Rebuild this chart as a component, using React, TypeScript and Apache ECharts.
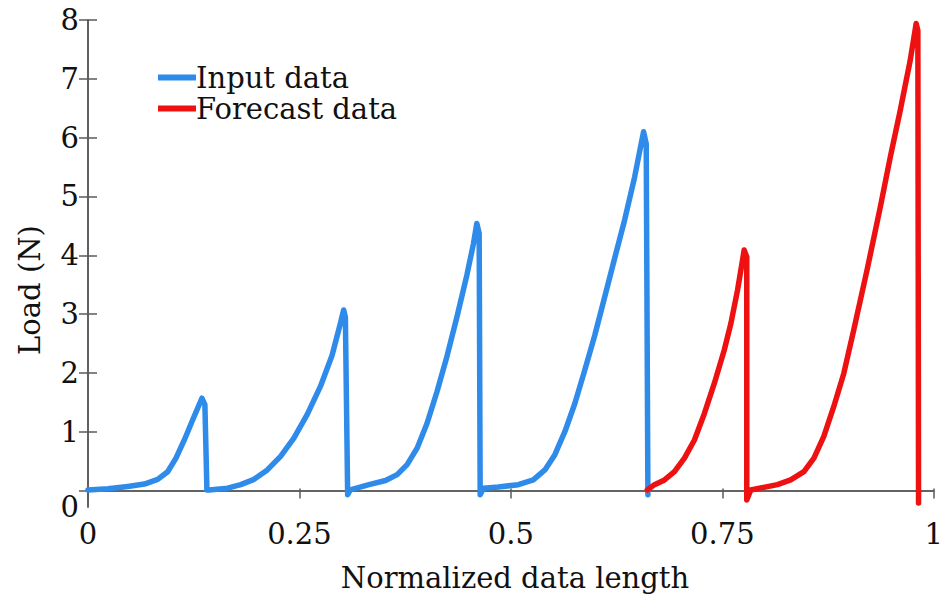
import React, { useEffect, useRef } from "react";
import * as echarts from "echarts";

const inputX = [
  0, 0.0236, 0.047, 0.0667, 0.0824, 0.0942, 0.104, 0.1139, 0.1237, 0.1315, 0.1347, 0.1382, 0.1406, 0.1433,
  0.165, 0.1806, 0.1963, 0.212, 0.2277, 0.2434, 0.2591, 0.2748, 0.2886, 0.2984, 0.3023, 0.3043, 0.307, 0.310,
  0.3322, 0.3518, 0.3655, 0.3773, 0.3891, 0.4008, 0.4126, 0.4244, 0.4362, 0.4479, 0.4558, 0.4597, 0.4625, 0.4637, 0.4676,
  0.4853, 0.5088, 0.5265, 0.5402, 0.552, 0.5638, 0.5756, 0.5874, 0.5992, 0.6109, 0.6227, 0.6345, 0.6463, 0.6541, 0.6569, 0.660, 0.662,
];
const inputY = [
  0.01, 0.03, 0.07, 0.11, 0.19, 0.32, 0.55, 0.86, 1.2, 1.46, 1.57, 1.46, 0.01, 0.01,
  0.04, 0.1, 0.19, 0.35, 0.58, 0.89, 1.29, 1.77, 2.3, 2.84, 3.07, 2.95, -0.07, 0.01,
  0.1, 0.17, 0.27, 0.44, 0.72, 1.14, 1.68, 2.28, 2.95, 3.66, 4.2, 4.54, 4.37, -0.07, 0.04,
  0.06, 0.1, 0.18, 0.35, 0.61, 1.0, 1.48, 2.05, 2.64, 3.29, 3.95, 4.6, 5.33, 5.9, 6.1, 5.9, -0.07,
];
const forecastX = [
  0.6612, 0.6698, 0.6816, 0.6934, 0.7052, 0.717, 0.7288, 0.7405, 0.7523, 0.7601, 0.768, 0.7739, 0.7758, 0.7789, 0.7789,
  0.7836, 0.8151, 0.8308, 0.8465, 0.8583, 0.87, 0.8818, 0.8936, 0.9054, 0.9211, 0.9368, 0.9486, 0.9603, 0.9721, 0.9792, 0.9812, 0.982,
];
const forecastY = [
  0.01, 0.1, 0.18, 0.32, 0.55, 0.86, 1.31, 1.82, 2.39, 2.84, 3.41, 3.92, 4.09, 3.97, -0.16,
  0.01, 0.1, 0.18, 0.32, 0.55, 0.92, 1.43, 1.99, 2.73, 3.75, 4.82, 5.67, 6.46, 7.31, 7.94, 7.82, -0.21,
];
const xTicks = [0, 0.25, 0.5, 0.75, 1];
const yTicks = [0, 1, 2, 3, 4, 5, 6, 7, 8];
const yLabelValues = [-0.28, 1, 2, 3, 4, 5, 6, 7, 8];
const Y_MIN = -0.28;

const FONT = "'DejaVu Serif', serif";
const AXIS_COLOR = "#5a5a5a";
const BLUE = "#2f8bea";
const RED = "#ee1111";

export default function App() {
  const ref = useRef<HTMLDivElement>(null);
  useEffect(() => {
    if (!ref.current) return;
    const chart = echarts.init(ref.current, undefined, { renderer: "svg" });
    const inputData = inputX.map((x, i) => [x, inputY[i]]);
    const forecastData = forecastX.map((x, i) => [x, forecastY[i]]);
    const axisLine = { show: true, lineStyle: { color: AXIS_COLOR, width: 1.6 } };
    const labelStyle = { color: "#111", fontFamily: FONT, fontSize: 29 };
    const tickStyle = { color: AXIS_COLOR, width: 1.5 };
    chart.setOption({
      animation: false,
      backgroundColor: "#fff",
      grid: { left: 88, right: 9, top: 20, bottom: 91, containLabel: false },
      legend: {
        orient: "vertical",
        left: 153,
        top: 58,
        icon: "rect",
        itemWidth: 38,
        itemHeight: 6,
        itemGap: 2,
        textStyle: { color: "#111", fontFamily: FONT, fontSize: 29, padding: [0, 0, 0, -5] },
        data: ["Input data", "Forecast data"],
      },
      xAxis: [
        {
          type: "value",
          min: 0,
          max: 1,
          interval: 0.25,
          position: "bottom",
          axisLine,
          splitLine: { show: false },
          axisTick: { show: true, inside: true, length: 2, customValues: xTicks, lineStyle: tickStyle },
          axisLabel: { ...labelStyle, margin: 12, customValues: xTicks, formatter: (v: number) => String(v) },
        },
        {
          type: "value",
          min: 0,
          max: 1,
          interval: 0.25,
          position: "top",
          axisLine,
          splitLine: { show: false },
          axisTick: { show: true, inside: true, length: 8, customValues: xTicks, lineStyle: tickStyle },
          axisLabel: { show: false },
        },
      ],
      yAxis: [
        {
          type: "value",
          min: Y_MIN,
          max: 8,
          position: "left",
          axisLine,
          splitLine: { show: false },
          axisTick: { show: true, inside: true, length: 9, customValues: yTicks, lineStyle: tickStyle },
          axisLabel: {
            ...labelStyle,
            margin: 9,
            customValues: yLabelValues,
            formatter: (v: number) => (v < 0 ? "0" : String(v)),
          },
        },
        {
          type: "value",
          min: Y_MIN,
          max: 8,
          position: "right",
          axisLine,
          splitLine: { show: false },
          axisTick: { show: true, inside: true, length: 9, customValues: yTicks, lineStyle: tickStyle },
          axisLabel: { show: false },
        },
      ],
      graphic: [
        {
          type: "text",
          x: 515,
          y: 578,
          style: {
            text: "Normalized data length",
            fill: "#111",
            font: `29px ${FONT}`,
            align: "center",
            verticalAlign: "middle",
          },
        },
        {
          type: "text",
          x: 30,
          y: 290,
          rotation: Math.PI / 2,
          style: {
            text: "Load (N)",
            fill: "#111",
            font: `29px ${FONT}`,
            align: "center",
            verticalAlign: "middle",
          },
        },
      ],
      series: [
        {
          name: "Input data",
          type: "line",
          data: inputData,
          showSymbol: false,
          symbol: "none",
          lineStyle: { color: BLUE, width: 5.5, cap: "round", join: "round" },
          itemStyle: { color: BLUE },
        },
        {
          name: "Forecast data",
          type: "line",
          data: forecastData,
          showSymbol: false,
          symbol: "none",
          lineStyle: { color: RED, width: 5.5, cap: "round", join: "round" },
          itemStyle: { color: RED },
        },
      ],
    });
    return () => chart.dispose();
  }, []);
  return <div ref={ref} style={{ width: 946, height: 598, position: "absolute", left: 0, top: 0 }} />;
}
